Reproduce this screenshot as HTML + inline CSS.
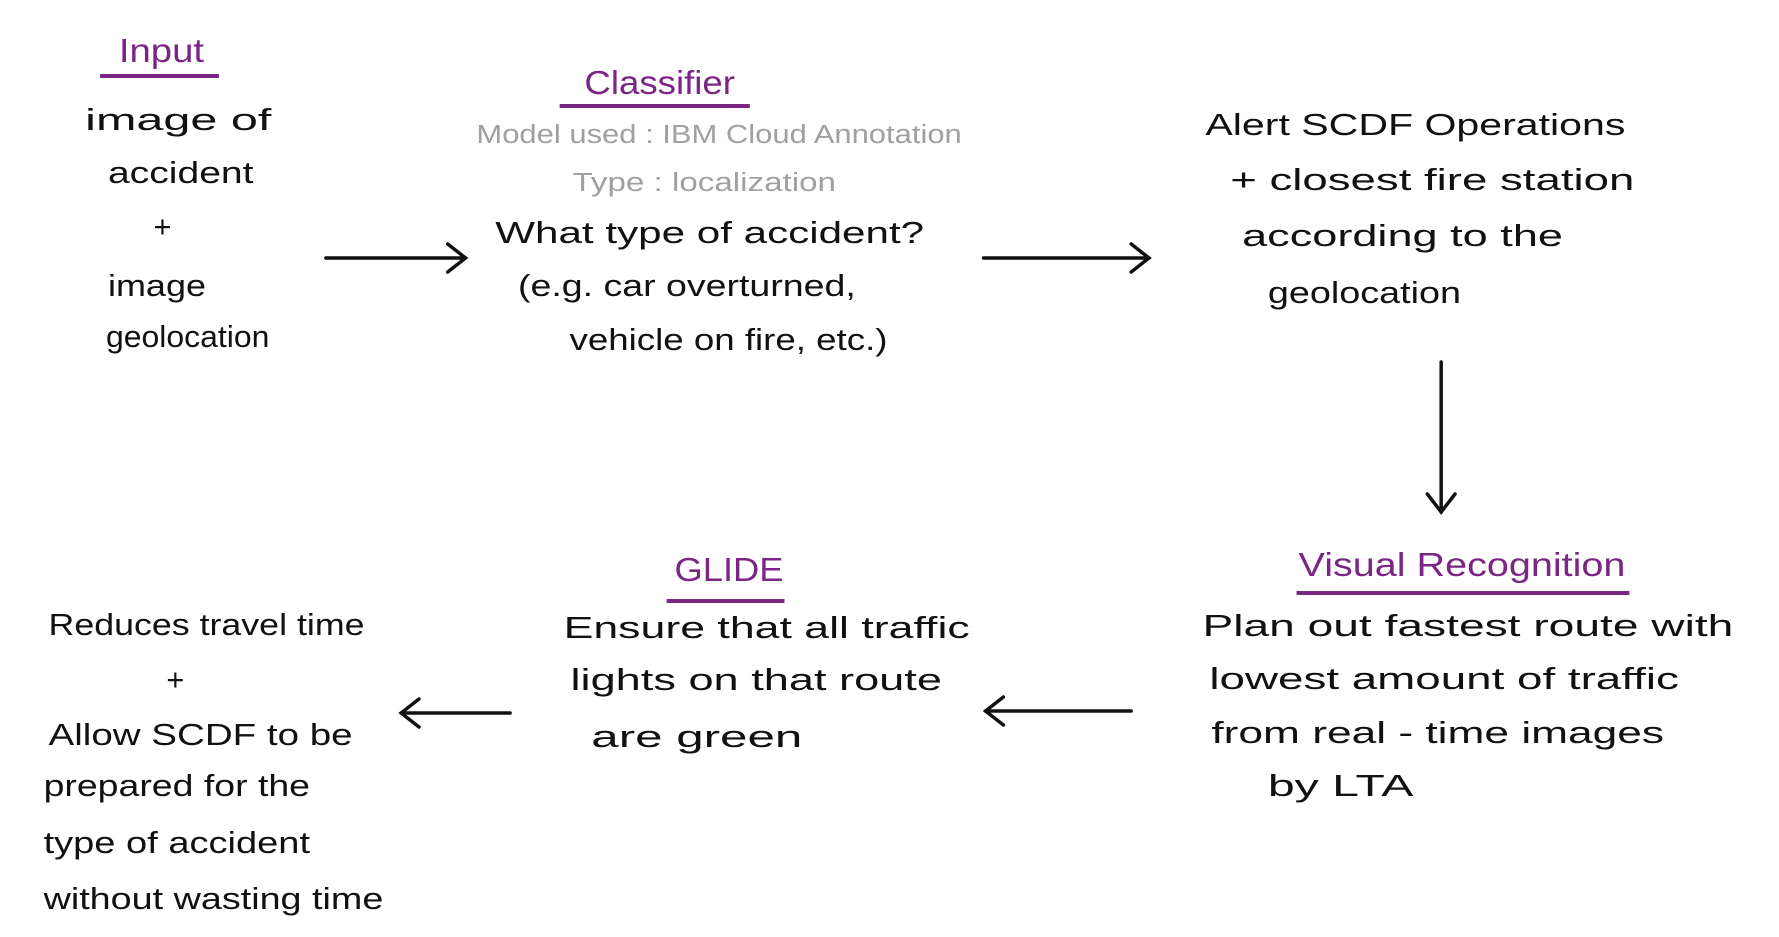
<!DOCTYPE html>
<html><head><meta charset="utf-8"><style>
html,body{margin:0;padding:0;background:#fff;}
svg{display:block;}
text{font-family:"Liberation Sans",sans-serif;}
.k{fill:#111;font-size:31px;}
.p{fill:#7b2585;font-size:33px;}
.g{fill:#a0a0a0;font-size:26px;}
</style></head><body>
<svg width="1779" height="937" viewBox="0 0 1779 937" xmlns="http://www.w3.org/2000/svg">
<g transform="scale(0.9905,1)">
<g stroke="#111" stroke-width="3.5" fill="none" stroke-linecap="round">
<line x1="329" y1="258" x2="470" y2="258"/><path d="M452,244 L470,258 L452,272"/>
<line x1="993" y1="258" x2="1160" y2="258"/><path d="M1142,244 L1160,258 L1142,272"/>
<line x1="1455" y1="362" x2="1455" y2="512"/><path d="M1441,494 L1455,512 L1469,494"/>
<line x1="1142" y1="711" x2="995" y2="711"/><path d="M1013,697 L995,711 L1013,725"/>
<line x1="515" y1="713" x2="405" y2="713"/><path d="M423,699 L405,713 L423,727"/>
</g>
<g stroke="#7b2585" stroke-width="4">
<line x1="101" y1="76" x2="221" y2="76"/>
<line x1="565" y1="106" x2="757" y2="106"/>
<line x1="673" y1="601" x2="792" y2="601"/>
<line x1="1309" y1="593" x2="1645" y2="593"/>
</g>
<text class="p" x="120" y="62" textLength="86" lengthAdjust="spacingAndGlyphs">Input</text>
<text class="p" x="590" y="94" textLength="152" lengthAdjust="spacingAndGlyphs">Classifier</text>
<text class="p" x="681" y="581" textLength="110" lengthAdjust="spacingAndGlyphs">GLIDE</text>
<text class="p" x="1311" y="576" textLength="330" lengthAdjust="spacingAndGlyphs">Visual Recognition</text>

<text class="k" x="86" y="130" textLength="188" lengthAdjust="spacingAndGlyphs">image of</text>
<text class="k" x="109" y="183" textLength="147" lengthAdjust="spacingAndGlyphs">accident</text>
<text class="k" x="155" y="237">+</text>
<text class="k" x="109" y="296" textLength="99" lengthAdjust="spacingAndGlyphs">image</text>
<text class="k" x="107" y="347" textLength="165" lengthAdjust="spacingAndGlyphs">geolocation</text>

<text class="g" x="481" y="143" textLength="490" lengthAdjust="spacingAndGlyphs">Model used : IBM Cloud Annotation</text>
<text class="g" x="578" y="191" textLength="266" lengthAdjust="spacingAndGlyphs">Type : localization</text>
<text class="k" x="500" y="243" textLength="433" lengthAdjust="spacingAndGlyphs">What type of accident?</text>
<text class="k" x="523" y="296" textLength="341" lengthAdjust="spacingAndGlyphs">(e.g. car overturned,</text>
<text class="k" x="575" y="350" textLength="321" lengthAdjust="spacingAndGlyphs">vehicle on fire, etc.)</text>

<text class="k" x="1217" y="135" textLength="424" lengthAdjust="spacingAndGlyphs">Alert  SCDF Operations</text>
<text class="k" x="1242" y="190" textLength="408" lengthAdjust="spacingAndGlyphs">+  closest  fire station</text>
<text class="k" x="1254" y="246" textLength="324" lengthAdjust="spacingAndGlyphs">according  to  the</text>
<text class="k" x="1280" y="303" textLength="195" lengthAdjust="spacingAndGlyphs">geolocation</text>

<text class="k" x="1214" y="636" textLength="536" lengthAdjust="spacingAndGlyphs">Plan out  fastest  route  with</text>
<text class="k" x="1221" y="689" textLength="474" lengthAdjust="spacingAndGlyphs">lowest  amount  of  traffic</text>
<text class="k" x="1223" y="743" textLength="457" lengthAdjust="spacingAndGlyphs">from  real - time  images</text>
<text class="k" x="1280" y="796" textLength="147" lengthAdjust="spacingAndGlyphs">by   LTA</text>

<text class="k" x="569" y="638" textLength="410" lengthAdjust="spacingAndGlyphs">Ensure  that  all  traffic</text>
<text class="k" x="576" y="690" textLength="375" lengthAdjust="spacingAndGlyphs">lights  on  that  route</text>
<text class="k" x="597" y="747" textLength="213" lengthAdjust="spacingAndGlyphs">are    green</text>

<text class="k" x="49" y="635" textLength="319" lengthAdjust="spacingAndGlyphs">Reduces  travel  time</text>
<text class="k" x="168" y="690">+</text>
<text class="k" x="49" y="745" textLength="307" lengthAdjust="spacingAndGlyphs">Allow  SCDF  to  be</text>
<text class="k" x="44" y="796" textLength="269" lengthAdjust="spacingAndGlyphs">prepared  for  the</text>
<text class="k" x="44" y="853" textLength="269" lengthAdjust="spacingAndGlyphs">type  of  accident</text>
<text class="k" x="44" y="909" textLength="343" lengthAdjust="spacingAndGlyphs">without  wasting  time</text>
</g>
</svg>
</body></html>
